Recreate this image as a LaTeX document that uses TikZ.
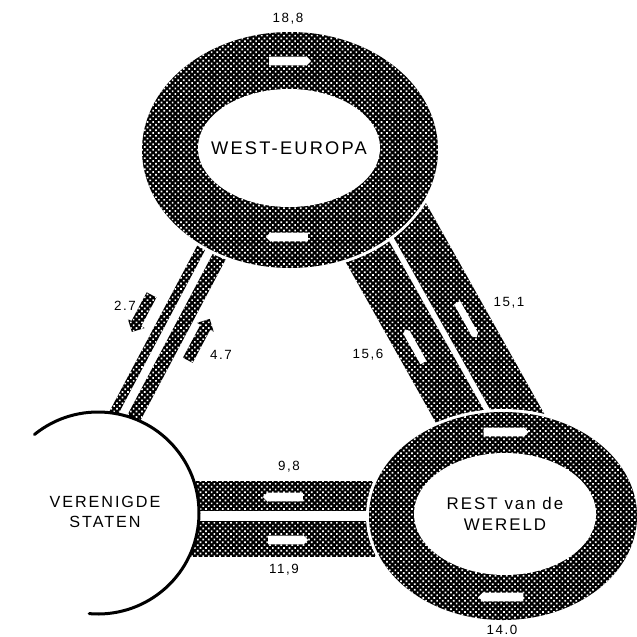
\documentclass[tikz,border=0pt]{standalone}
\usepackage{fontspec}
\setmainfont{Liberation Sans}
\newfontfamily\stencil[LetterSpace=12]{Liberation Sans}
\usetikzlibrary{shapes.arrows, patterns.meta}

\tikzstyle{screen} = [preaction={fill=black}, pattern={Dots[distance=2.8pt, radius=0.85pt, angle=45]}, pattern color=white]
\tikzstyle{band} = [rectangle, screen, inner sep=0pt, minimum width=10cm]
\tikzstyle{pointer} = [single arrow, fill=white, inner xsep=0pt, inner ysep=0.1cm, single arrow head extend=0.02cm, minimum height=1.05cm]
\tikzstyle{share} = [single arrow, screen, inner xsep=0pt, inner ysep=0.13cm, single arrow head extend=0.1cm, minimum height=1.1cm]
\tikzstyle{value} = [font=\stencil\fontsize{9.5}{11}\selectfont, inner sep=0pt]
\tikzstyle{region} = [font=\stencil\fontsize{12}{15}\selectfont, align=center, inner sep=0pt]

\begin{document}
\begin{tikzpicture}[x=0.025cm, y=-0.025cm]
\useasboundingbox (0,0) rectangle (637,637);

% Centres
\coordinate (weCenter) at (290,150);
\coordinate (weHole) at (289,148);
\coordinate (rwCenter) at (503,516);
\coordinate (rwHole) at (505,514);
\coordinate (vsCenter) at (98,513);

% Bands
\node (bandA) [band, minimum width=10cm, minimum height=0.225cm, rotate=62.1] at (157.9,329.6) {};
\node (bandB) [band, minimum width=10cm, minimum height=0.35cm, rotate=62.1] at (175.6,339) {};
\node (bandC) [band, minimum width=10.25cm, minimum height=1.2cm, rotate=-60.7] at (410.75,328.9) {};
\node (bandD) [band, minimum width=10.25cm, minimum height=1.125cm, rotate=-60.7] at (456.25,303.1) {};
\node (bandE) [band, minimum width=10.125cm, minimum height=0.75cm] at (300.5,496) {};
\node (bandF) [band, minimum width=10.125cm, minimum height=0.9cm] at (300.5,539) {};

% Rings
\fill[white] (weCenter) ellipse [x radius=151, y radius=121];
\fill[screen] (weCenter) ellipse [x radius=148, y radius=118];
\fill[white] (weHole) ellipse [x radius=91, y radius=59];

\fill[white] (rwCenter) ellipse [x radius=137, y radius=107];
\fill[screen] (rwCenter) ellipse [x radius=134, y radius=104];
\fill[white] (rwHole) ellipse [x radius=91, y radius=61];

\fill[white] (vsCenter) circle (101);
\draw[line width=0.075cm, line cap=round] (vsCenter) ++(-129:101) arc[start angle=-129, end angle=95, radius=101];

% Arrows
\node (weTop) [pointer] at (288,61) {};
\node (weBottom) [pointer, rotate=180] at (289,237) {};
\node (rwTop) [pointer, minimum height=1.12cm] at (504,432) {};
\node (rwBottom) [pointer, minimum height=1.12cm, rotate=180] at (503,597) {};
\node (toStates) [pointer, minimum height=1cm, rotate=180] at (285,497) {};
\node (toWorld) [pointer, minimum height=1cm] at (286,540) {};
\node (upC) [pointer, inner ysep=0.08cm, minimum height=0.95cm, rotate=119.3] at (415,347.5) {};
\node (downD) [pointer, inner ysep=0.08cm, minimum height=1cm, rotate=-60.7] at (466,318.5) {};
\node (outA) [share, minimum height=1.05cm, rotate=-118] at (143,311) {};
\node (inB) [share, minimum height=1.17cm, rotate=62] at (197.5,342) {};

% Nodes
\node (weText) [region, font=\stencil\fontsize{13}{15}\selectfont] at (289,148) {WEST-EUROPA};
\node (rwText) [region] at (505,514) {REST van de\\WERELD};
\node (vsText) [region, font=\stencil\fontsize{11.5}{14}\selectfont] at (105,512) {VERENIGDE\\STATEN};

\node (vWE) [value] at (288,19) {18,8};
\node (vA) [value] at (125,306) {2.7};
\node (vB) [value] at (221,355) {4.7};
\node (vC) [value] at (368,355) {15,6};
\node (vD) [value] at (509,303) {15,1};
\node (vE) [value] at (289,467) {9,8};
\node (vF) [value] at (284,570) {11,9};
\node (vRW) [value] at (502,630) {14.0};

\end{tikzpicture}
\end{document}
